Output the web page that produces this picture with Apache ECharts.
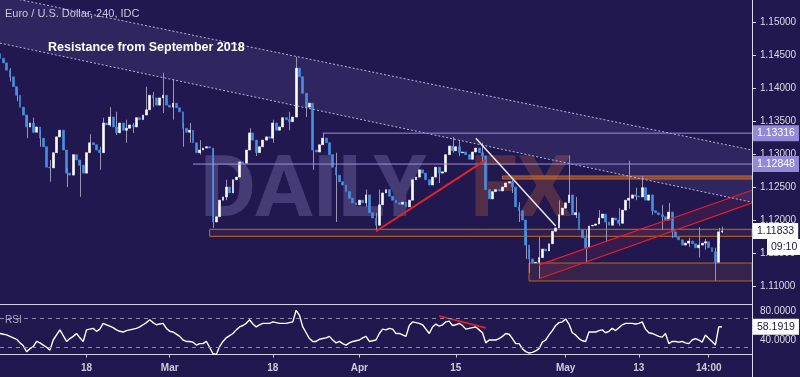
<!DOCTYPE html>
<html>
<head>
<meta charset="utf-8">
<title>Euro / U.S. Dollar, 240</title>
<script src="https://cdn.jsdelivr.net/npm/echarts@6/dist/echarts.min.js"></script>
<style>
html, body { margin: 0; padding: 0; background: #21184f; }
#chart { width: 800px; height: 377px; }
</style>
</head>
<body>
<div id="chart"></div>
<script>
// closes of the bars (about two 4H bars per bar here)
var firstOpen = 1.1452;
var closes = [
  1.1445, 1.1438, 1.1427, 1.1417, 1.1402, 1.1389, 1.1371, 1.1359, 1.1341, 1.1347,
  1.1333, 1.1341, 1.1324, 1.1311, 1.1280, 1.1279, 1.1302, 1.1326, 1.1336, 1.1306,
  1.1271, 1.1268, 1.1299, 1.1291, 1.1283, 1.1271, 1.1302, 1.1317, 1.1314, 1.1306,
  1.1302, 1.1347, 1.1344, 1.1356, 1.1341, 1.1332, 1.1347, 1.1336, 1.1339, 1.1344,
  1.1341, 1.1355, 1.1352, 1.1359, 1.1367, 1.1389, 1.1385, 1.1374, 1.1385, 1.1389,
  1.1374, 1.1371, 1.1377, 1.1370, 1.1364, 1.1339, 1.1333, 1.1336, 1.1317, 1.1302,
  1.1306, 1.1309, 1.1311, 1.1309, 1.1197, 1.1205, 1.1230, 1.1235, 1.1250, 1.1241,
  1.1261, 1.1265, 1.1288, 1.1286, 1.1306, 1.1332, 1.1321, 1.1302, 1.1311, 1.1321,
  1.1326, 1.1324, 1.1347, 1.1336, 1.1341, 1.1355, 1.1352, 1.1349, 1.1356, 1.1430,
  1.1417, 1.1392, 1.1371, 1.1377, 1.1306, 1.1303, 1.1314, 1.1324, 1.1317, 1.1299,
  1.1280, 1.1268, 1.1258, 1.1253, 1.1243, 1.1233, 1.1226, 1.1223, 1.1230, 1.1226,
  1.1238, 1.1211, 1.1203, 1.1192, 1.1223, 1.1241, 1.1246, 1.1236, 1.1230, 1.1226,
  1.1224, 1.1227, 1.1220, 1.1230, 1.1261, 1.1265, 1.1276, 1.1271, 1.1261, 1.1253,
  1.1265, 1.1280, 1.1271, 1.1273, 1.1299, 1.1312, 1.1305, 1.1311, 1.1302, 1.1303,
  1.1299, 1.1292, 1.1303, 1.1309, 1.1302, 1.1297, 1.1246, 1.1232, 1.1243, 1.1246,
  1.1244, 1.1250, 1.1256, 1.1258, 1.1250, 1.1220, 1.1214, 1.1200, 1.1162, 1.1141,
  1.1135, 1.1136, 1.1143, 1.1156, 1.1153, 1.1164, 1.1183, 1.1188, 1.1208, 1.1218,
  1.1226, 1.1238, 1.1208, 1.1211, 1.1185, 1.1173, 1.1158, 1.1191, 1.1192, 1.1194,
  1.1203, 1.1209, 1.1197, 1.1192, 1.1203, 1.1200, 1.1195, 1.1215, 1.1230, 1.1233,
  1.1238, 1.1236, 1.1235, 1.1249, 1.1230, 1.1238, 1.1214, 1.1211, 1.1208, 1.1205,
  1.1200, 1.1212, 1.1182, 1.1174, 1.1170, 1.1162, 1.1165, 1.1168, 1.1164, 1.1158,
  1.1162, 1.1165, 1.1167, 1.1158, 1.1152, 1.1136, 1.1182, 1.11833
];

// visible wicks: [bar, low, high]
var wicks = [
  [3, 1.1410, 1.1430], [5, 1.1380, 1.1398], [8, 1.1324, 1.1359], [10, 1.1332, 1.1355],
  [12, 1.1311, 1.1336], [15, 1.1258, 1.1291], [20, 1.1250, 1.1279], [24, 1.1235, 1.1291],
  [27, 1.1317, 1.1330], [30, 1.1276, 1.1311], [31, 1.1339, 1.1355], [33, 1.1341, 1.1371],
  [35, 1.1329, 1.1364], [38, 1.1317, 1.1352], [40, 1.1332, 1.1347], [44, 1.1362, 1.1402],
  [46, 1.1371, 1.1394], [49, 1.1362, 1.1423], [52, 1.1352, 1.1413], [55, 1.1311, 1.1347],
  [57, 1.1317, 1.1347], [60, 1.1299, 1.1321], [64, 1.1188, 1.1309], [68, 1.1230, 1.1261],
  [75, 1.1321, 1.1339], [77, 1.1297, 1.1321], [82, 1.1317, 1.1352], [87, 1.1336, 1.1364],
  [89, 1.1356, 1.1447], [92, 1.1356, 1.1382], [94, 1.1276, 1.1306], [97, 1.1314, 1.1332],
  [101, 1.1197, 1.1302], [110, 1.1220, 1.1246], [113, 1.1183, 1.1211], [114, 1.1203, 1.1246],
  [132, 1.1256, 1.1276], [136, 1.1302, 1.1326], [138, 1.1297, 1.1321], [145, 1.1286, 1.1317],
  [154, 1.1241, 1.1261], [156, 1.1197, 1.1227], [158, 1.1141, 1.1182], [159, 1.1120, 1.1156],
  [162, 1.1111, 1.1174], [168, 1.1197, 1.1230], [171, 1.1230, 1.1298], [173, 1.1203, 1.1235],
  [176, 1.1136, 1.1185], [180, 1.1194, 1.1215], [182, 1.1167, 1.1197], [186, 1.1191, 1.1218],
  [189, 1.1217, 1.1290], [191, 1.1230, 1.1249], [193, 1.1238, 1.1267], [196, 1.1208, 1.1224],
  [199, 1.1185, 1.1223], [201, 1.1205, 1.1226], [202, 1.1173, 1.1191], [207, 1.1159, 1.1173],
  [210, 1.1143, 1.1189], [212, 1.1155, 1.1171], [215, 1.1108, 1.1158], [216, 1.1165, 1.1188],
  [217, 1.1180, 1.1190]
];

var rsi = [
  49, 48, 47, 45, 43, 41, 36, 32, 24, 28,
  31, 38, 36, 33, 30, 26, 40, 47, 54, 46,
  38, 42, 45, 49, 43, 38, 54, 55, 56, 52,
  55, 63, 61, 59, 57, 54, 52, 51, 53, 54,
  55, 56, 58, 61, 64, 68, 64, 61, 62, 63,
  56, 52, 51, 48, 45, 40, 38, 38, 37, 33,
  35, 35, 38, 30, 21, 20, 31, 38, 43, 46,
  49, 54, 58, 60, 63, 68, 62, 58, 61, 63,
  63, 63, 65, 64, 63, 63, 63, 64, 65, 81,
  74, 58, 50, 42, 38, 38, 41, 42, 43, 45,
  40, 36, 38, 35, 33, 36, 38, 39, 40, 43,
  45, 38, 39, 40, 49, 55, 54, 56, 55, 49,
  49, 47, 45, 60, 65, 64, 63, 61, 55, 49,
  58, 62, 59, 61, 65, 66, 60, 61, 63, 60,
  55, 56, 57, 58, 54, 50, 36, 40, 40, 40,
  42, 45, 49, 48, 42, 35, 35, 28, 24, 22,
  23, 25, 28, 37, 40, 47, 53, 60, 64, 65,
  69, 62, 50, 47, 42, 39, 38, 51, 51, 51,
  53, 54, 50, 52, 56, 53, 57, 61, 63, 63,
  63, 62, 63, 65, 55, 50, 49, 47, 45, 44,
  49, 35, 38, 38, 37, 38, 36, 35, 40, 42,
  40, 37, 47, 42, 38, 33, 58, 58.1919
];

var xTickLabels = {26: '18', 51: 'Mar', 82: '18', 108: 'Apr', 137: '15', 170: 'May', 192: '13', 213: '14:00'};
var barCount = 227;

// drawn studies: [bar, upper, lower]
var resistanceBand = [[0, 1.1540, 1.1468], [226, 1.1306, 1.1227]];
var risingChannel = [[162, 1.1132, 1.1111], [226, 1.1245, 1.1226]];
var zoneTop = [[151, 1.12667, 1.12621], [226, 1.12667, 1.12621]];
var zoneMid = [[63, 1.11859, 1.11753], [226, 1.11859, 1.11753]];
var zoneLow = [[159, 1.11348, 1.11076], [226, 1.11348, 1.11076]];
var redTrend = [[113, 1.1183], [146, 1.1291]];
var whiteTrend = [[143, 1.1324], [167, 1.1191]];
var rsiTrend = [[132, 73.1], [146, 56.6]];
var levelHigh = {from: 97, price: 1.13316};
var levelLow = {from: 58, price: 1.12848};
var lastPrice = 1.11833;
var lastRsi = 58.1919;
var barTimer = '09:10';

var fontFamily = 'Liberation Sans, Arial, sans-serif';
var markFont = 'Roboto, Liberation Sans, sans-serif';

var categories = [];
for (var i = 0; i < barCount; i++) categories.push(String(i));

var candles = closes.map(function (c, i) {
  var o = i === 0 ? firstOpen : closes[i - 1];
  return [o, c, Math.min(o, c), Math.max(o, c)];
});

function bandSeries(band, fill, stroke, z) {
  return {
    type: 'custom', xAxisIndex: 0, yAxisIndex: 0, silent: true, z: z,
    data: [[band[0][0], band[0][1], band[0][2], band[1][0], band[1][1], band[1][2]]],
    encode: {x: [0, 3], y: [1, 2, 4, 5]},
    renderItem: function (params, api) {
      var pts = [
        api.coord([api.value(0), api.value(1)]),
        api.coord([api.value(3), api.value(4)]),
        api.coord([api.value(3), api.value(5)]),
        api.coord([api.value(0), api.value(2)])
      ];
      return {type: 'polygon', shape: {points: pts},
        style: {fill: fill, stroke: stroke || null, lineWidth: 1}};
    }
  };
}

function lineSeries(points, color, width, type, axis) {
  return {
    type: 'line', xAxisIndex: axis || 0, yAxisIndex: axis || 0,
    data: points, symbol: 'none', silent: true, z: 4,
    lineStyle: {color: color, width: width, type: type || 'solid'}
  };
}

function tagSeries(bar, value, text, bg, fg, axis, offset) {
  return {
    type: 'line', xAxisIndex: axis || 0, yAxisIndex: axis || 0,
    data: [[bar, value], [barCount - 1, value]], symbol: 'none', silent: true, clip: false, z: 6,
    lineStyle: {color: 'transparent', width: 0},
    endLabel: {
      show: true, formatter: function () { return text; }, distance: 1,
      offset: offset || [0, 0], color: fg, backgroundColor: bg,
      fontSize: 10.5, fontFamily: fontFamily, padding: [2, 4, 2, 4], lineHeight: 12
    }
  };
}

function label(text, x, y, size, weight, fill, z, family) {
  return {type: 'text', x: x, y: y, z: z, silent: true,
    style: {text: text, fontSize: size, fontWeight: weight, fontFamily: family || fontFamily,
      fill: fill, textVerticalAlign: 'middle'}};
}

var chart = echarts.init(document.getElementById('chart'), null, {renderer: 'canvas'});

chart.setOption({
  animation: false,
  backgroundColor: '#21184f',
  textStyle: {fontFamily: fontFamily},
  grid: [
    {left: 0, right: 48, top: -11, height: 330, outerBoundsMode: 'none', containLabel: false},
    {left: 0, right: 48, top: 296.5, height: 58, outerBoundsMode: 'none', containLabel: false}
  ],
  xAxis: [
    {gridIndex: 0, type: 'category', data: categories, boundaryGap: false,
      axisLine: {show: false}, axisTick: {show: false}, axisLabel: {show: false}, splitLine: {show: false}},
    {gridIndex: 1, type: 'category', data: categories, boundaryGap: false,
      axisLine: {show: true, lineStyle: {color: '#cfcde0', width: 1}},
      axisTick: {show: true, length: 3, lineStyle: {color: '#cfcde0'},
        interval: function (i) { return xTickLabels[i] !== undefined; }},
      axisLabel: {show: true, color: '#cdcade', fontSize: 10, fontWeight: 'bold', margin: 9,
        interval: function (i) { return xTickLabels[i] !== undefined; },
        formatter: function (v, i) { return xTickLabels[i] || ''; }},
      splitLine: {show: false}}
  ],
  yAxis: [
    {gridIndex: 0, type: 'value', position: 'right', min: 1.105, max: 1.155, interval: 0.005,
      axisLine: {show: false}, splitLine: {show: false},
      axisTick: {show: true, length: 4, lineStyle: {color: '#d8d6e6'}},
      axisLabel: {color: '#dcdaea', fontSize: 10, margin: 8,
        formatter: function (v) { return (v > 1.1075 && v < 1.153) ? v.toFixed(5) : ''; }}},
    {gridIndex: 1, type: 'value', position: 'right', min: 20, max: 100, interval: 20,
      axisLine: {show: false}, splitLine: {show: false},
      axisTick: {show: false},
      axisLabel: {color: '#dcdaea', fontSize: 10, margin: 8,
        formatter: function (v) { return (v === 40 || v === 80) ? v.toFixed(4) : ''; }}}
  ],
  series: [
    bandSeries(resistanceBand, 'rgba(150,140,215,0.13)', null, 1),
    bandSeries(risingChannel, 'rgba(215,40,70,0.12)', null, 1),
    bandSeries(zoneTop, 'rgba(196,105,45,0.55)', '#c4692d', 1),
    bandSeries(zoneMid, 'rgba(196,105,45,0.10)', '#c4692d', 1),
    bandSeries(zoneLow, 'rgba(170,95,60,0.16)', '#b8652e', 1),
    lineSeries(resistanceBand.map(function (p) { return [p[0], p[1]]; }), '#b9b4d8', 1, [2, 2]),
    lineSeries(resistanceBand.map(function (p) { return [p[0], p[2]]; }), '#b9b4d8', 1, [2, 2]),
    lineSeries([[levelHigh.from, levelHigh.price], [barCount - 1, levelHigh.price]], '#9b90dc', 1),
    lineSeries([[levelLow.from, levelLow.price], [barCount - 1, levelLow.price]], '#9b90dc', 1),
    {
      type: 'custom', xAxisIndex: 0, yAxisIndex: 0, silent: true, z: 2,
      data: wicks, encode: {x: 0, y: [1, 2]},
      renderItem: function (params, api) {
        var lo = api.coord([api.value(0), api.value(1)]);
        var hi = api.coord([api.value(0), api.value(2)]);
        var x = Math.round(lo[0]) + 0.5;
        return {type: 'line', shape: {x1: x, y1: lo[1], x2: x, y2: hi[1]},
          style: {stroke: '#9794b4', lineWidth: 1}};
      }
    },
    {
      type: 'candlestick', xAxisIndex: 0, yAxisIndex: 0, data: candles, z: 3,
      barWidth: '70%', silent: true,
      itemStyle: {color: '#ffffff', color0: '#4a90e2', borderColor: '#ffffff', borderColor0: '#4a90e2', borderWidth: 0.6}
    },
    lineSeries(redTrend, '#e8202c', 2),
    lineSeries(risingChannel.map(function (p) { return [p[0], p[1]]; }), '#e0202c', 1.2),
    lineSeries(risingChannel.map(function (p) { return [p[0], p[2]]; }), '#e0202c', 1.2),
    lineSeries(whiteTrend, '#ece9f5', 1.5),
    {
      type: 'line', xAxisIndex: 1, yAxisIndex: 1, data: rsi, symbol: 'none', silent: true, z: 3,
      lineStyle: {color: '#ffffff', width: 1.4},
      markLine: {silent: true, symbol: 'none', label: {show: false},
        lineStyle: {color: '#8e8aa8', type: [4, 4], width: 1},
        data: [{yAxis: 70}, {yAxis: 30}]}
    },
    lineSeries(rsiTrend, '#e8202c', 1.8, 'solid', 1),
    tagSeries(levelHigh.from, levelHigh.price, levelHigh.price.toFixed(5), '#9488d8', '#ffffff'),
    tagSeries(levelLow.from, levelLow.price, levelLow.price.toFixed(5), '#9488d8', '#ffffff'),
    tagSeries(closes.length - 1, lastPrice, lastPrice.toFixed(5), '#ffffff', '#1b1640'),
    tagSeries(closes.length - 1, lastPrice, barTimer, '#ffffff', '#1b1640', 0, [14, 16]),
    tagSeries(rsi.length - 1, lastRsi, lastRsi.toFixed(4), '#ffffff', '#1b1640', 1)
  ],
  graphic: {elements: [
    label('DAILY', 200, 194, 86, 'bold', 'rgba(165,155,215,0.28)', 0, markFont),
    label('FX', 470, 194, 86, 'bold', 'rgba(195,100,55,0.30)', 0, markFont),
    label('Euro / U.S. Dollar, 240, IDC', 5, 14, 11, 'normal', '#cac6e2', 10),
    label('Resistance from September 2018', 48, 48, 12.5, 'bold', '#ffffff', 10),
    label('RSI', 5, 320, 10, 'normal', '#a9a6c4', 10),
    {type: 'line', z: 10, silent: true, shape: {x1: 0, y1: 304.5, x2: 752, y2: 304.5},
      style: {stroke: '#cfcde0', lineWidth: 1}},
    {type: 'line', z: 10, silent: true, shape: {x1: 752.5, y1: 0, x2: 752.5, y2: 377},
      style: {stroke: '#dcdaea', lineWidth: 1}}
  ]}
});
</script>
</body>
</html>
